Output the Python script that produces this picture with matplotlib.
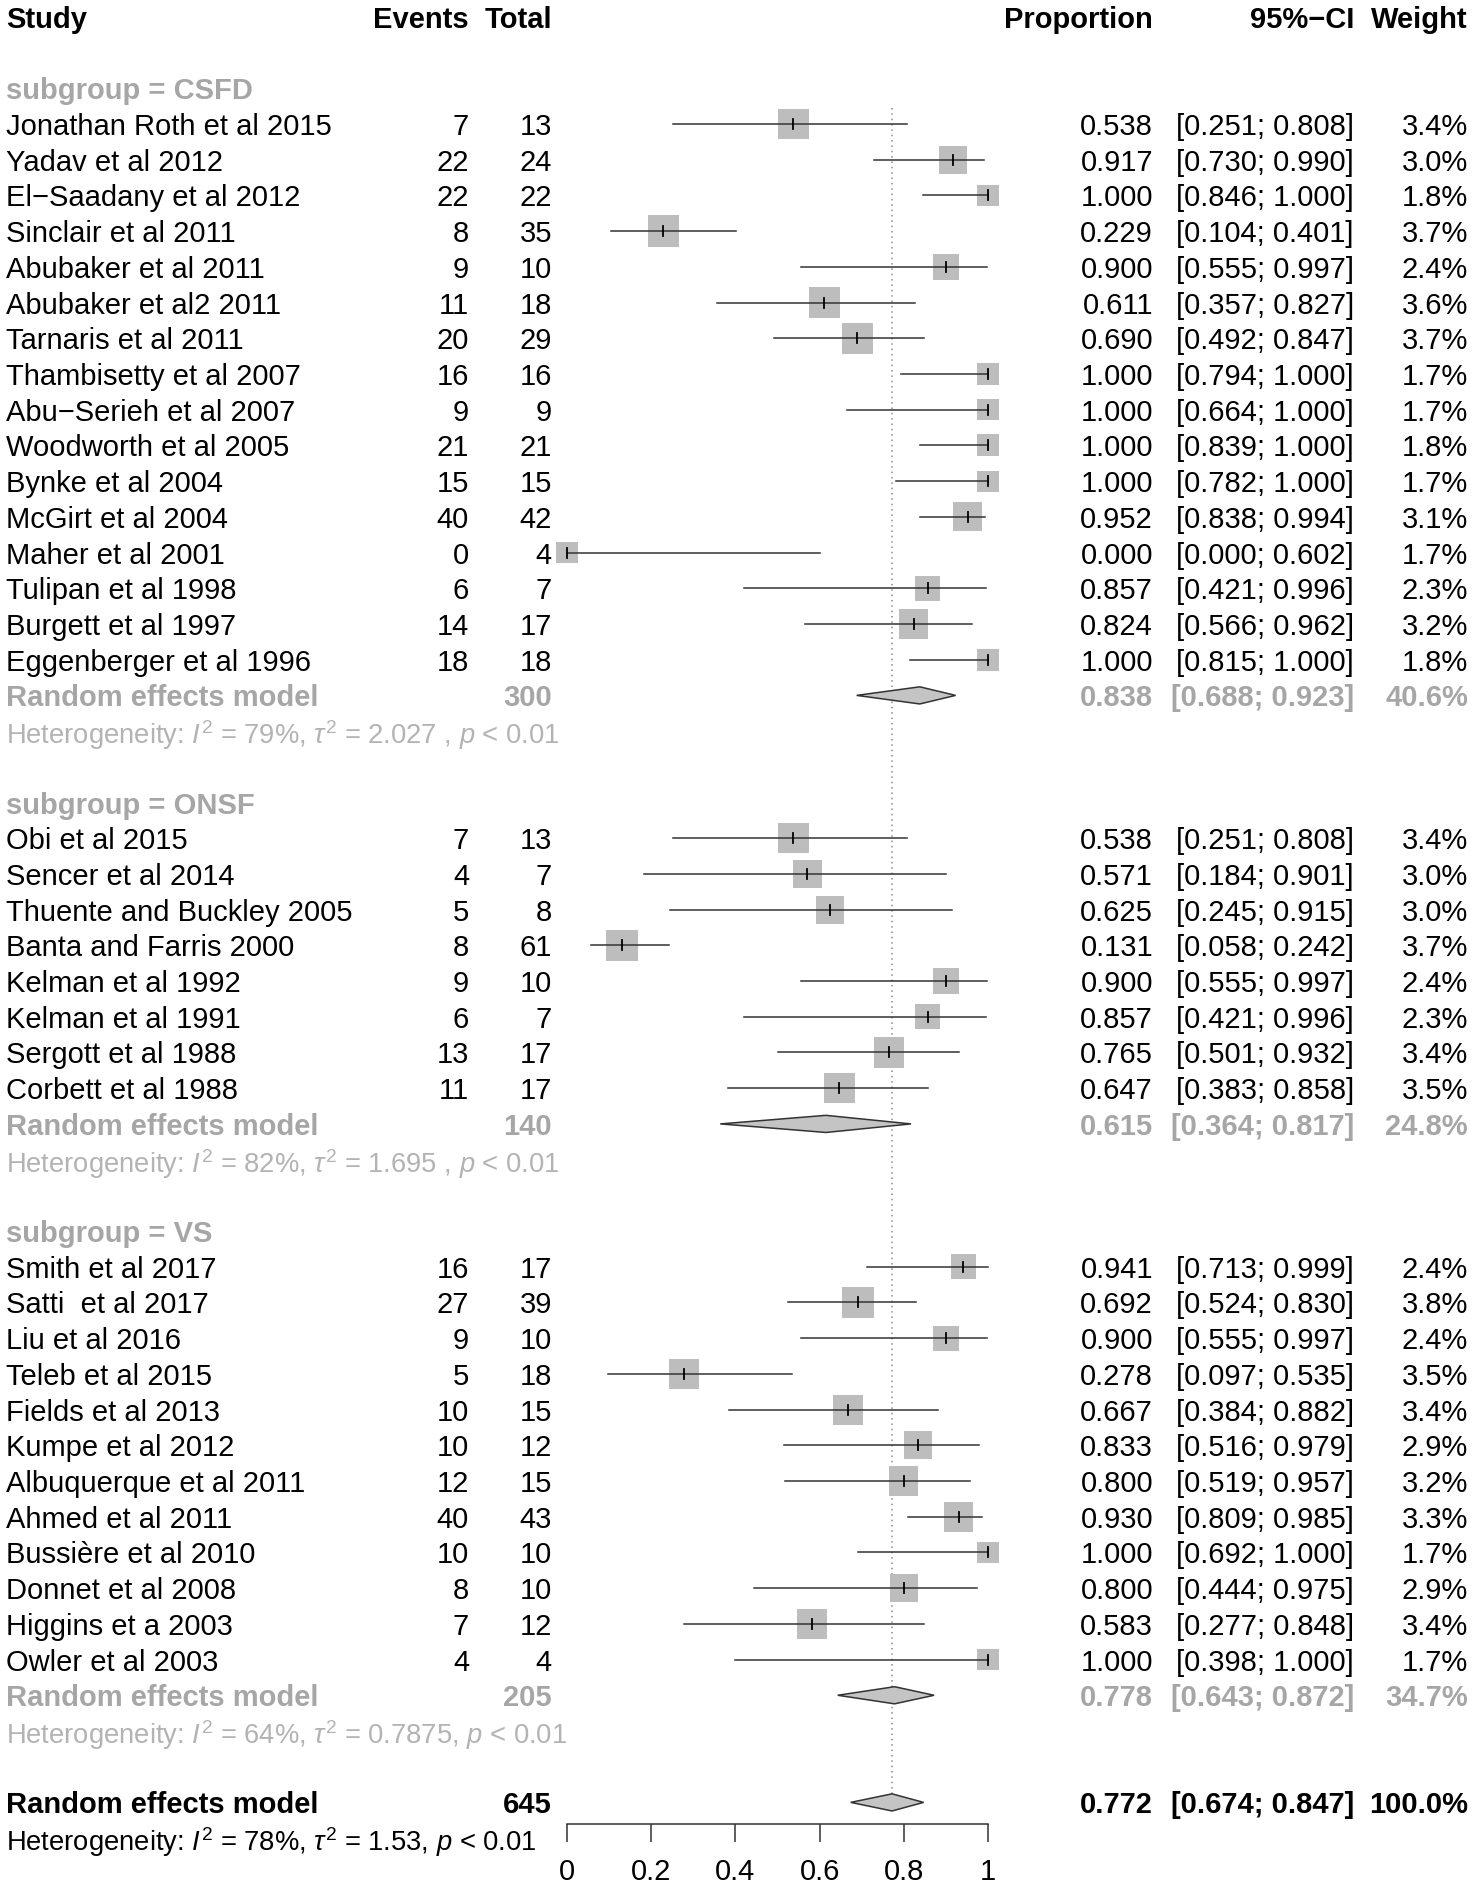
#!/usr/bin/env python3
"""
Forest plot of pooled proportions by subgroup (CSFD / ONSF / VS),
random effects model, drawn in the style of R's meta::forest.
"""

import matplotlib
matplotlib.use("Agg")
import matplotlib.pyplot as plt
from matplotlib.patches import Polygon
from matplotlib.transforms import blended_transform_factory

plt.rcParams["font.family"] = ["Liberation Sans", "DejaVu Sans"]
plt.rcParams["mathtext.fontset"] = "custom"
plt.rcParams["mathtext.rm"] = "Liberation Sans"
plt.rcParams["mathtext.it"] = "Liberation Sans:italic"
plt.rcParams["mathtext.bf"] = "Liberation Sans:bold"

# ---- data -------------------------------------------------------------
csfd_study = ["Jonathan Roth et al 2015", "Yadav et al 2012", "El\u2212Saadany et al 2012",
              "Sinclair et al 2011", "Abubaker et al 2011", "Abubaker et al2 2011",
              "Tarnaris et al 2011", "Thambisetty et al 2007", "Abu\u2212Serieh et al 2007",
              "Woodworth et al 2005", "Bynke et al 2004", "McGirt et al 2004",
              "Maher et al 2001", "Tulipan et al 1998", "Burgett et al 1997",
              "Eggenberger et al 1996"]
csfd_events = [7, 22, 22, 8, 9, 11, 20, 16, 9, 21, 15, 40, 0, 6, 14, 18]
csfd_total = [13, 24, 22, 35, 10, 18, 29, 16, 9, 21, 15, 42, 4, 7, 17, 18]
csfd_prop = [0.538, 0.917, 1.000, 0.229, 0.900, 0.611, 0.690, 1.000, 1.000, 1.000,
             1.000, 0.952, 0.000, 0.857, 0.824, 1.000]
csfd_lower = [0.251, 0.730, 0.846, 0.104, 0.555, 0.357, 0.492, 0.794, 0.664, 0.839,
              0.782, 0.838, 0.000, 0.421, 0.566, 0.815]
csfd_upper = [0.808, 0.990, 1.000, 0.401, 0.997, 0.827, 0.847, 1.000, 1.000, 1.000,
              1.000, 0.994, 0.602, 0.996, 0.962, 1.000]
csfd_weight = [3.4, 3.0, 1.8, 3.7, 2.4, 3.6, 3.7, 1.7, 1.7, 1.8, 1.7, 3.1, 1.7, 2.3, 3.2, 1.8]

onsf_study = ["Obi et al 2015", "Sencer et al 2014", "Thuente and Buckley 2005",
              "Banta and Farris 2000", "Kelman et al 1992", "Kelman et al 1991",
              "Sergott et al 1988", "Corbett et al 1988"]
onsf_events = [7, 4, 5, 8, 9, 6, 13, 11]
onsf_total = [13, 7, 8, 61, 10, 7, 17, 17]
onsf_prop = [0.538, 0.571, 0.625, 0.131, 0.900, 0.857, 0.765, 0.647]
onsf_lower = [0.251, 0.184, 0.245, 0.058, 0.555, 0.421, 0.501, 0.383]
onsf_upper = [0.808, 0.901, 0.915, 0.242, 0.997, 0.996, 0.932, 0.858]
onsf_weight = [3.4, 3.0, 3.0, 3.7, 2.4, 2.3, 3.4, 3.5]

vs_study = ["Smith et al 2017", "Satti  et al 2017", "Liu et al 2016", "Teleb et al 2015",
            "Fields et al 2013", "Kumpe et al 2012", "Albuquerque et al 2011",
            "Ahmed et al 2011", "Bussi\u00e8re et al 2010", "Donnet et al 2008",
            "Higgins et a 2003", "Owler et al 2003"]
vs_events = [16, 27, 9, 5, 10, 10, 12, 40, 10, 8, 7, 4]
vs_total = [17, 39, 10, 18, 15, 12, 15, 43, 10, 10, 12, 4]
vs_prop = [0.941, 0.692, 0.900, 0.278, 0.667, 0.833, 0.800, 0.930, 1.000, 0.800, 0.583, 1.000]
vs_lower = [0.713, 0.524, 0.555, 0.097, 0.384, 0.516, 0.519, 0.809, 0.692, 0.444, 0.277, 0.398]
vs_upper = [0.999, 0.830, 0.997, 0.535, 0.882, 0.979, 0.957, 0.985, 1.000, 0.975, 0.848, 1.000]
vs_weight = [2.4, 3.8, 2.4, 3.5, 3.4, 2.9, 3.2, 3.3, 1.7, 2.9, 3.4, 1.7]

group_names = ["CSFD", "ONSF", "VS"]
group_n = [300, 140, 205]
group_est = [0.838, 0.615, 0.778]
group_lower = [0.688, 0.364, 0.643]
group_upper = [0.923, 0.817, 0.872]
group_weight = [40.6, 24.8, 34.7]
group_i2 = ["79%", "82%", "64%"]
group_tau2 = ["2.027 ", "1.695 ", "0.7875"]

overall_n = 645
overall_est, overall_lower, overall_upper = 0.772, 0.674, 0.847
overall_i2, overall_tau2 = "78%", "1.53"

x_ticks = [0, 0.2, 0.4, 0.6, 0.8, 1]
x_ticklabels = ["0", "0.2", "0.4", "0.6", "0.8", "1"]

# ---- layout (pixels of the 1472x1888 canvas) ---------------------------
W, H = 1472, 1888
FS = 21
FS_HET = 19.7
ROW0 = 16.9          # centre of header row
ROW_H = 35.71
AX_X0, AX_X1 = 567, 988
AXIS_Y = 1823.5

X_STUDY = 6
X_EVENTS = 469
X_TOTAL = 552
X_PROP = 1153
X_CI = 1354
X_WEIGHT = 1468

GREY = "#a6a6a6"
SQ_COL = "#bdbdbd"
LINE_COL = "#333333"


def fmt_ci(lo, hi):
    return f"[{lo:.3f}; {hi:.3f}]"


def het_label(i2, tau2):
    return rf"Heterogeneity: $I^2$ = {i2}, $\tau^2$ = {tau2}, $p$ < 0.01"


def main():
    fig = plt.figure(figsize=(W / 100, H / 100), dpi=100)
    ax = fig.add_axes([AX_X0 / W, 1 - AXIS_Y / H, (AX_X1 - AX_X0) / W, AXIS_Y / H])
    ax.set_xlim(0, 1)
    ax.set_ylim((AXIS_Y - ROW0) / ROW_H, (0 - ROW0) / ROW_H)
    trans = blended_transform_factory(fig.transFigure, ax.transData)

    def put(xpx, row, s, ha="right", fontsize=FS, **kw):
        ax.text(xpx / W, row, s, transform=trans, ha=ha, va="center_baseline",
                fontsize=fontsize, **kw)

    def diamond(est, lo, hi, row):
        ax.add_patch(Polygon([(lo, row), (est, row - 0.24), (hi, row), (est, row + 0.24)],
                             closed=True, facecolor="#c4c4c4", edgecolor=LINE_COL,
                             lw=1.1, clip_on=False, zorder=3))

    # header
    put(X_STUDY, 0, "Study", ha="left", fontweight="bold")
    put(X_EVENTS, 0, "Events", fontweight="bold")
    put(X_TOTAL, 0, "Total", fontweight="bold")
    put(X_PROP, 0, "Proportion", fontweight="bold")
    put(X_CI, 0, "95%\u2212CI", fontweight="bold")
    put(X_WEIGHT, 0, "Weight", fontweight="bold")

    groups = [
        (csfd_study, csfd_events, csfd_total, csfd_prop, csfd_lower, csfd_upper, csfd_weight),
        (onsf_study, onsf_events, onsf_total, onsf_prop, onsf_lower, onsf_upper, onsf_weight),
        (vs_study, vs_events, vs_total, vs_prop, vs_lower, vs_upper, vs_weight),
    ]

    row = 2
    for g, (names, ev, tot, prop, lo, hi, wt) in enumerate(groups):
        put(X_STUDY, row, f"subgroup = {group_names[g]}", ha="left",
            fontweight="bold", color=GREY)
        row += 1
        for i in range(len(names)):
            put(X_STUDY, row, names[i], ha="left")
            put(X_EVENTS, row, str(ev[i]))
            put(X_TOTAL, row, str(tot[i]))
            put(X_PROP, row, f"{prop[i]:.3f}")
            put(X_CI, row, fmt_ci(lo[i], hi[i]))
            put(X_WEIGHT, row, f"{wt[i]:.1f}%")
            side_pt = 11.74 * wt[i] ** 0.5
            ax.scatter([prop[i]], [row], marker="s", s=side_pt ** 2, color=SQ_COL,
                       edgecolors="none", clip_on=False, zorder=1)
            ax.plot([lo[i], hi[i]], [row, row], color=LINE_COL, lw=1.1,
                    clip_on=False, zorder=2)
            ax.plot([prop[i], prop[i]], [row - 0.14, row + 0.14], color="black",
                    lw=1.3, clip_on=False, zorder=2)
            row += 1
        put(X_STUDY, row, "Random effects model", ha="left", fontweight="bold", color=GREY)
        put(X_TOTAL, row, str(group_n[g]), fontweight="bold", color=GREY)
        put(X_PROP, row, f"{group_est[g]:.3f}", fontweight="bold", color=GREY)
        put(X_CI, row, fmt_ci(group_lower[g], group_upper[g]), fontweight="bold", color=GREY)
        put(X_WEIGHT, row, f"{group_weight[g]:.1f}%", fontweight="bold", color=GREY)
        diamond(group_est[g], group_lower[g], group_upper[g], row)
        row += 1
        put(X_STUDY, row, het_label(group_i2[g], group_tau2[g]), ha="left",
            fontsize=FS_HET, color="#b3b3b3")
        row += 2

    # overall
    put(X_STUDY, row, "Random effects model", ha="left", fontweight="bold")
    put(X_TOTAL, row, str(overall_n), fontweight="bold")
    put(X_PROP, row, f"{overall_est:.3f}", fontweight="bold")
    put(X_CI, row, fmt_ci(overall_lower, overall_upper), fontweight="bold")
    put(X_WEIGHT, row, "100.0%", fontweight="bold")
    diamond(overall_est, overall_lower, overall_upper, row)
    put(X_STUDY, row + 1, het_label(overall_i2, overall_tau2), ha="left", fontsize=FS_HET)

    # reference line at the pooled estimate
    ax.plot([overall_est, overall_est], [2.55, row - 0.2], color="#8c8c8c",
            lw=1.1, ls=(0, (1, 2.5)), zorder=0)

    for s in ["top", "left", "right"]:
        ax.spines[s].set_visible(False)
    ax.spines["bottom"].set_color(LINE_COL)
    ax.spines["bottom"].set_linewidth(1.1)
    ax.set_yticks([])
    ax.set_xticks(x_ticks)
    ax.set_xticklabels(x_ticklabels)
    ax.tick_params(axis="x", direction="out", length=13, width=1.1, color=LINE_COL,
                   pad=11.5, labelsize=FS)
    ax.patch.set_visible(False)

    fig.savefig("out.png", dpi=100)
    plt.close(fig)


if __name__ == "__main__":
    main()
